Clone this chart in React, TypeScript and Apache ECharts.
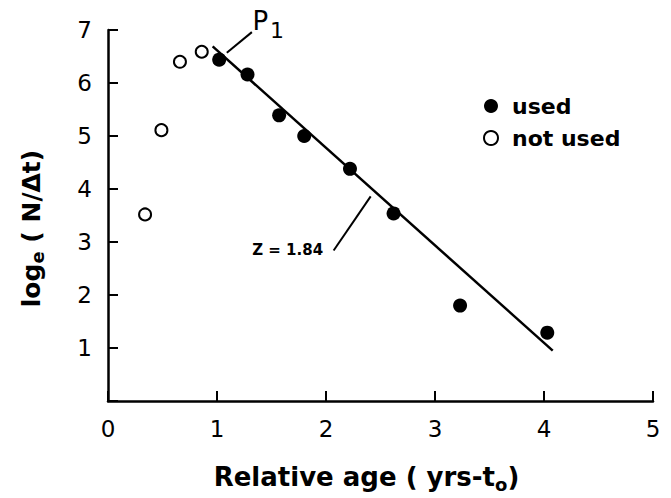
import React, { useEffect, useRef } from "react";
import * as echarts from "echarts";

// Data
const usedX = [1.02, 1.28, 1.57, 1.8, 2.22, 2.62, 3.23, 4.03];
const usedY = [6.44, 6.16, 5.39, 5.0, 4.38, 3.54, 1.8, 1.29];
const notUsedX = [0.34, 0.49, 0.66, 0.86];
const notUsedY = [3.52, 5.11, 6.4, 6.59];
const fitX = [0.96, 4.08];
const fitY = [6.69, 0.95];
const p1LeaderX = [1.09, 1.32];
const p1LeaderY = [6.57, 6.96];
const zLeaderX = [2.07, 2.41];
const zLeaderY = [2.84, 3.86];
const seriesNames = ["used", "not used"];
const zLabel = "Z = 1.84";
const xRange = [0, 5];
const yRange = [0, 7];

const zip = (xs: number[], ys: number[]) => xs.map((x, i) => [x, ys[i]]);

const FONT = "DejaVu Sans";

export default function App() {
  const ref = useRef<HTMLDivElement>(null);
  useEffect(() => {
    if (!ref.current) return;
    const chart = echarts.init(ref.current, undefined, { renderer: "svg" });
    const leaderStyle = { color: "#000", width: 2 };
    chart.setOption({
      animation: false,
      backgroundColor: "#fff",
      grid: { left: 108, right: 18, top: 30, bottom: 94 },
      legend: {
        data: seriesNames,
        orient: "vertical",
        left: 478,
        top: 90,
        itemWidth: 14,
        itemHeight: 14,
        itemGap: 10,
        icon: "circle",
        textStyle: {
          fontFamily: FONT,
          fontWeight: "bold",
          fontSize: 22,
          color: "#000",
          padding: [0, 0, 0, 9],
        },
      },
      xAxis: {
        type: "value",
        min: xRange[0],
        max: xRange[1],
        interval: 1,
        splitLine: { show: false },
        axisLine: { show: true, onZero: false, lineStyle: { color: "#000", width: 2.5 } },
        axisTick: { show: true, inside: true, length: 10, lineStyle: { color: "#000", width: 2 } },
        axisLabel: { fontFamily: FONT, fontSize: 23, color: "#000", margin: 16 },
        name: "{m|Relative age ( yrs-t}{s|o}{m|)}",
        nameLocation: "middle",
        nameGap: 60,
        nameTextStyle: {
          padding: [0, 28, 0, 0],
          rich: {
            m: { fontFamily: FONT, fontWeight: "bold", fontSize: 26, color: "#000" },
            s: { fontFamily: FONT, fontWeight: "bold", fontSize: 18, color: "#000", padding: [14, 0, 0, 0] },
          },
        },
      },
      yAxis: {
        type: "value",
        min: yRange[0],
        max: yRange[1],
        interval: 1,
        splitLine: { show: false },
        axisLine: { show: true, onZero: false, lineStyle: { color: "#000", width: 2.5 } },
        axisTick: { show: true, inside: true, length: 10, lineStyle: { color: "#000", width: 2 } },
        axisLabel: {
          fontFamily: FONT,
          fontSize: 23,
          color: "#000",
          margin: 16,
          formatter: (v: number) => (v === 0 ? "" : String(v)),
        },
        name: "{m|log}{s|e}{m| ( N/Δt)}",
        nameLocation: "middle",
        nameGap: 62,
        nameRotate: 90,
        nameTextStyle: {
          padding: [0, 26, 0, 0],
          rich: {
            m: { fontFamily: FONT, fontWeight: "bold", fontSize: 25, color: "#000" },
            s: { fontFamily: FONT, fontWeight: "bold", fontSize: 18, color: "#000", padding: [12, 0, 0, 0] },
          },
        },
      },
      series: [
        {
          name: "fit",
          type: "line",
          data: zip(fitX, fitY),
          symbol: "none",
          lineStyle: { color: "#000", width: 2.5 },
          z: 1,
        },
        {
          name: seriesNames[0],
          type: "scatter",
          data: zip(usedX, usedY),
          symbol: "circle",
          symbolSize: 14,
          itemStyle: { color: "#000", opacity: 1 },
          z: 3,
        },
        {
          name: seriesNames[1],
          type: "scatter",
          data: zip(notUsedX, notUsedY),
          symbol: "circle",
          symbolSize: 12,
          itemStyle: { color: "#fff", borderColor: "#000", borderWidth: 2, opacity: 1 },
          z: 3,
        },
        {
          name: "p1Leader",
          type: "line",
          data: zip(p1LeaderX, p1LeaderY),
          symbol: "none",
          lineStyle: leaderStyle,
        },
        {
          name: "zLeader",
          type: "line",
          data: zip(zLeaderX, zLeaderY),
          symbol: "none",
          lineStyle: leaderStyle,
        },
        {
          name: "labels",
          type: "scatter",
          symbol: "circle",
          symbolSize: 1,
          itemStyle: { color: "#fff", opacity: 1 },
          silent: true,
          data: [
            {
              value: [p1LeaderX[1], p1LeaderY[1]],
              label: {
                show: true,
                position: "right",
                distance: 0,
                offset: [0, -11],
                color: "#000",
                formatter: "{p|P}{s|1}",
                rich: {
                  p: { fontFamily: FONT, fontSize: 26, color: "#000" },
                  s: { fontFamily: FONT, fontSize: 22, color: "#000", padding: [18, 0, 0, 2] },
                },
              },
            },
            {
              value: [zLeaderX[0], zLeaderY[0]],
              label: {
                show: true,
                position: "left",
                distance: 10,
                formatter: zLabel,
                fontFamily: FONT,
                fontSize: 15,
                fontWeight: "bold",
                color: "#000",
              },
            },
          ],
        },
      ],
    });
    return () => chart.dispose();
  }, []);
  return <div ref={ref} style={{ width: 671, height: 498, position: "absolute", left: 0, top: 0 }} />;
}
